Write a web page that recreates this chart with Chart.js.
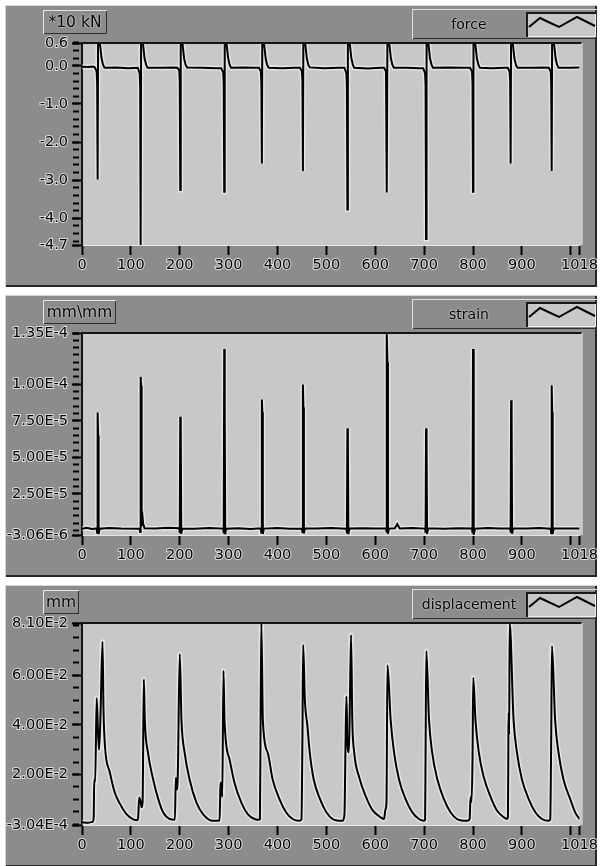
<!DOCTYPE html>
<html lang="en">
<head>
<meta charset="UTF-8">
<title>force / strain / displacement</title>
<script src="https://cdn.jsdelivr.net/npm/chart.js"></script>
<style>
  body { margin: 0; background: #fff; font-family: "DejaVu Sans", sans-serif; }
  .panel {
    position: absolute; left: 5px; width: 592px; height: 282px;
    background: #8c8c8c;
    box-shadow: inset 1px 1px 0 #d4d4d4, inset -2px -2px 0 #262626;
  }
  .panel canvas { position: absolute; left: 0; top: 0; }
  .unit {
    position: absolute; left: 38px; top: 5px; height: 24px; line-height: 24px;
    text-align: center; font-size: 15.5px; color: #000;
    box-shadow: inset 1px 1px 0 #e6e6e6, inset -1px -1px 0 #303030;
    text-shadow: 0 0 2px #fff;
  }
  .legend {
    position: absolute; left: 407px; top: 4px; width: 185px; height: 30px;
    box-shadow: inset 1px 1px 0 #e0e0e0, inset -1px -1px 0 #303030;
  }
  .legend span {
    position: absolute; left: 0; top: 0; width: 114px; line-height: 30px;
    text-align: center; font-size: 14px; color: #000; text-shadow: 0 0 2px #fff;
  }
  .legend .icon {
    position: absolute; left: 114px; top: 3px; width: 70px; height: 25px;
    background: #c8c8c8;
    box-shadow: inset 2px 2px 0 #1a1a1a, inset -1px -1px 0 #f0f0f0;
  }
</style>
</head>
<body>

<div class="panel" style="top:5px">
  <canvas id="forceChart" width="595" height="282"></canvas>
  <div class="unit" style="width:64px">*10 kN</div>
  <div class="legend"><span>force</span>
    <div class="icon"><svg width="70" height="25"><polyline points="3,15 14,6 33,15 51,5 69,14" fill="none" stroke="#000" stroke-width="2"/></svg></div>
  </div>
</div>

<div class="panel" style="top:295px">
  <canvas id="strainChart" width="595" height="282"></canvas>
  <div class="unit" style="width:73px">mm\mm</div>
  <div class="legend"><span>strain</span>
    <div class="icon"><svg width="70" height="25"><polyline points="3,15 14,6 33,15 51,5 69,14" fill="none" stroke="#000" stroke-width="2"/></svg></div>
  </div>
</div>

<div class="panel" style="top:585px">
  <canvas id="dispChart" width="595" height="282"></canvas>
  <div class="unit" style="width:36px">mm</div>
  <div class="legend"><span>displacement</span>
    <div class="icon"><svg width="70" height="25"><polyline points="3,15 14,6 33,15 51,5 69,14" fill="none" stroke="#000" stroke-width="2"/></svg></div>
  </div>
</div>

<script>
// x axis (sample index), shared by the three graphs
const xTickValues = [0, 100, 200, 300, 400, 500, 600, 700, 800, 900, 1000, 1018];
const xTickLabels = ['0', '100', '200', '300', '400', '500', '600', '700', '800', '900', '', '1018'];

// force (*10 kN)
const forceX = [
  0, 12, 22,
  26, 30, 31, 32, 33, 35, 37, 40, 43, 46, 70, 95,
  114, 118, 119, 120, 121, 123, 125, 128, 131, 134, 160, 185,
  195, 199, 200, 201, 202, 204, 206, 209, 212, 215, 245, 275,
  285, 289, 290, 291, 292, 294, 296, 299, 302, 305, 330, 352,
  362, 366, 367, 368, 369, 371, 373, 376, 379, 382, 410, 435,
  446, 450, 451, 452, 453, 455, 457, 460, 463, 466, 495, 525,
  537, 541, 542, 543, 544, 546, 548, 551, 554, 557, 585, 610,
  618, 622, 623, 624, 625, 627, 629, 632, 635, 638, 665, 690,
  698, 702, 703, 704, 705, 707, 709, 712, 715, 718, 750, 780,
  794, 798, 799, 800, 801, 803, 805, 808, 811, 814, 840, 865,
  871, 875, 876, 877, 878, 880, 882, 885, 888, 891, 920, 945,
  955, 959, 960, 961, 962, 964, 966, 969, 972, 975, 1000, 1018
];
const forceY = [
  -0.02, -0.03, -0.02,
  -0.04, -0.15, -0.45, -2.98, 1.3, 0.9, 0.55, 0.2, 0.03, -0.05, -0.04, -0.06,
  -0.05, -0.2, -0.5, -4.7, 1.3, 0.92, 0.56, 0.2, 0.04, -0.05, -0.05, -0.04,
  -0.05, -0.12, -0.4, -3.26, 1.25, 0.88, 0.54, 0.19, 0.03, -0.04, -0.05, -0.06,
  -0.06, -0.18, -0.5, -3.3, 1.3, 0.9, 0.55, 0.21, 0.03, -0.05, -0.04, -0.05,
  -0.05, -0.15, -0.45, -2.56, 1.2, 0.86, 0.52, 0.18, 0.02, -0.05, -0.06, -0.05,
  -0.05, -0.14, -0.4, -2.76, 1.25, 0.9, 0.55, 0.2, 0.03, -0.04, -0.06, -0.05,
  -0.05, -0.2, -0.55, -3.77, 1.35, 0.94, 0.57, 0.21, 0.04, -0.05, -0.07, -0.05,
  -0.05, -0.15, -0.45, -3.32, 1.3, 0.9, 0.55, 0.2, 0.03, -0.05, -0.05, -0.06,
  -0.06, -0.2, -0.5, -4.54, 1.35, 0.92, 0.56, 0.2, 0.04, -0.05, -0.04, -0.05,
  -0.05, -0.15, -0.45, -3.3, 1.3, 0.9, 0.55, 0.2, 0.03, -0.05, -0.06, -0.05,
  -0.05, -0.15, -0.4, -2.56, 1.2, 0.86, 0.52, 0.18, 0.02, -0.05, -0.05, -0.04,
  -0.05, -0.15, -0.45, -2.76, 1.25, 0.9, 0.55, 0.2, 0.03, -0.05, -0.05, -0.04
];
const forceTicks = [0.6, 0.0, -1.0, -2.0, -3.0, -4.0, -4.7];
const forceTickLabels = ['0.6', '0.0', '-1.0', '-2.0', '-3.0', '-4.0', '-4.7'];

// strain (mm\mm)
const strainX = [
  0, 10, 20,
  30, 31, 32, 33, 34, 36, 55, 80,
  118, 119, 120, 121, 122, 123, 125, 128, 150, 175,
  199, 200, 201, 202, 203, 205, 230, 260,
  289, 290, 291, 292, 293, 295, 320, 345,
  366, 367, 368, 369, 370, 372, 400, 425,
  450, 451, 452, 453, 454, 456, 480, 510,
  541, 542, 543, 544, 545, 547, 575, 600,
  622, 623, 624, 625, 626, 628, 640, 645, 650, 675,
  702, 703, 704, 705, 706, 708, 740, 770,
  798, 799, 800, 801, 802, 804, 830, 855,
  876, 877, 878, 879, 880, 882, 910, 935,
  959, 960, 961, 962, 963, 965, 990, 1018
];
const strainY = [
  1.2e-6, 1.8e-6, 1.0e-6,
  1.4e-6, -1.5e-6, 8.06e-5, 6.5e-5, -2.5e-6, 1.2e-6, 1.8e-6, 1.3e-6,
  1.2e-6, -1.0e-6, 1.05e-4, 9.9e-5, 3.0e-6, 1.27e-5, 5.0e-6, 1.6e-6, 1.4e-6, 1.9e-6,
  1.5e-6, -1.8e-6, 7.77e-5, 7.0e-5, -2.2e-6, 1.4e-6, 1.2e-6, 1.7e-6,
  1.3e-6, -2.0e-6, 1.24e-4, 8.3e-5, -2.6e-6, 1.2e-6, 1.6e-6, 1.1e-6,
  1.5e-6, -1.6e-6, 8.96e-5, 8.1e-5, -2.4e-6, 1.3e-6, 1.7e-6, 1.2e-6,
  1.4e-6, -1.2e-6, 9.98e-5, 8.4e-5, -2.0e-6, 1.5e-6, 1.3e-6, 1.8e-6,
  1.2e-6, -1.9e-6, 6.98e-5, 6.0e-5, -2.5e-6, 1.4e-6, 1.6e-6, 1.3e-6,
  1.5e-6, -1.4e-6, 1.35e-4, 1.15e-4, -2.2e-6, 1.3e-6, 1.5e-6, 4.4e-6, 1.4e-6, 1.7e-6,
  1.3e-6, -1.7e-6, 6.98e-5, 6.0e-5, -2.3e-6, 1.5e-6, 1.2e-6, 1.6e-6,
  1.4e-6, -2.0e-6, 1.24e-4, 1.08e-4, -2.6e-6, 1.2e-6, 1.7e-6, 1.3e-6,
  1.5e-6, -1.5e-6, 8.9e-5, 8.0e-5, -2.2e-6, 1.4e-6, 1.3e-6, 1.8e-6,
  1.2e-6, -1.8e-6, 9.93e-5, 8.1e-5, -2.4e-6, 1.5e-6, 1.4e-6, 1.3e-6
];
const strainTicks = [1.35e-4, 1.0e-4, 7.5e-5, 5.0e-5, 2.5e-5, -3.06e-6];
const strainTickLabels = ['1.35E-4', '1.00E-4', '7.50E-5', '5.00E-5', '2.50E-5', '-3.06E-6'];

// displacement (mm)
const dispX = [
  0, 12, 22,
  24, 25, 27, 30, 33, 35, 38, 42, 44, 47, 57, 67, 78, 91, 104, 113,
  115, 117, 120, 122, 124, 126.5, 128.5, 135, 145.5, 156, 166, 179.5, 190,
  192, 194, 196, 200, 203.5, 210, 220, 234, 247.5, 268, 281.5,
  283, 285, 287, 289.5, 291.5, 302, 312, 326, 339, 353, 361,
  364, 365.5, 367, 370, 380, 390, 404, 417.5, 431, 445,
  449, 451, 452.5, 456, 461, 466, 474, 487, 500, 513, 533,
  537, 539, 541, 543, 546, 548, 550.5, 553, 557, 567, 581, 594, 611, 618,
  621, 623, 625, 631.5, 638.5, 648.5, 662, 676, 689.5, 700,
  702, 703, 704.5, 710, 716.5, 727, 740.5, 754, 767.5, 788,
  793, 795, 797, 799, 800.5, 805, 812, 822, 836, 849, 863, 870,
  871.5, 872.5, 873, 874, 875, 883, 890, 900, 914, 927.5, 941, 955,
  958, 960, 961.5, 968, 975, 985, 999, 1009, 1018
];
const dispY = [
  0.0008, 0.0006, 0.0010,
  0.0030, 0.0180, 0.0170, 0.0508, 0.0360, 0.0300, 0.0450, 0.0735, 0.0460, 0.0315, 0.0208, 0.0128, 0.0081, 0.0041, 0.0021, 0.0016,
  0.0030, 0.0108, 0.0090, 0.0068, 0.0090, 0.0584, 0.0420, 0.0288, 0.0181, 0.0101, 0.0048, 0.0021, 0.0018,
  0.0187, 0.0140, 0.0200, 0.0685, 0.0420, 0.0288, 0.0181, 0.0088, 0.0041, 0.0014, 0.0015,
  0.0140, 0.0168, 0.0110, 0.0618, 0.0420, 0.0260, 0.0167, 0.0087, 0.0041, 0.0021, 0.0018,
  0.0020, 0.0450, 0.0810, 0.0420, 0.0288, 0.0181, 0.0101, 0.0048, 0.0021, 0.0014,
  0.0020, 0.0350, 0.0722, 0.0500, 0.0400, 0.0288, 0.0181, 0.0101, 0.0048, 0.0021, 0.0014,
  0.0040, 0.0300, 0.0515, 0.0330, 0.0290, 0.0480, 0.0762, 0.0420, 0.0288, 0.0190, 0.0110, 0.0058, 0.0028, 0.0021,
  0.0060, 0.0090, 0.0640, 0.0420, 0.0288, 0.0181, 0.0101, 0.0048, 0.0021, 0.0014,
  0.0020, 0.0300, 0.0697, 0.0420, 0.0288, 0.0181, 0.0101, 0.0048, 0.0021, 0.0014,
  0.0020, 0.0110, 0.0090, 0.0260, 0.0590, 0.0420, 0.0288, 0.0190, 0.0110, 0.0055, 0.0028, 0.0021,
  0.0030, 0.0380, 0.0450, 0.0360, 0.0810, 0.0420, 0.0288, 0.0181, 0.0101, 0.0048, 0.0021, 0.0014,
  0.0020, 0.0350, 0.0717, 0.0420, 0.0288, 0.0181, 0.0101, 0.0048, 0.0021
];
const dispTicks = [0.081, 0.06, 0.04, 0.02, -3.04e-4];
const dispTickLabels = ['8.10E-2', '6.00E-2', '4.00E-2', '2.00E-2', '-3.04E-4'];

const tickFont = { family: 'DejaVu Sans', size: 14.5 };

// light plot background + sunken frame around the plot area
const plotFrame = {
  id: 'plotFrame',
  beforeDraw(chart) {
    const { ctx, chartArea: a } = chart;
    ctx.save();
    ctx.fillStyle = '#c8c8c8';
    ctx.fillRect(a.left, a.top, a.right - a.left + 2, a.bottom - a.top);
    ctx.restore();
  },
  afterDraw(chart) {
    const { ctx, chartArea: a } = chart;
    ctx.save();
    ctx.fillStyle = '#141414';
    ctx.fillRect(a.left - 1, a.top - 1, a.right - a.left + 3, 2);
    ctx.fillStyle = '#e6e6e6';
    ctx.fillRect(a.right + 2, a.top, 1, a.bottom - a.top);
    ctx.restore();
  }
};

function minorTicks(lo, hi, step) {
  const out = [lo, hi];
  for (let k = Math.ceil(lo / step); k * step <= hi + step * 1e-6; k++) out.push(k * step);
  return out;
}

function makeGraph(id, xs, ys, yMin, yMax, majors, majorLabels, minorStep, smooth) {
  const pts = xs.map((x, i) => ({ x: x, y: ys[i] }));
  const minors = minorTicks(yMin, yMax, minorStep);
  const line = { pointRadius: 0, tension: smooth ? 0.4 : 0, cubicInterpolationMode: smooth ? 'monotone' : 'default' };
  return new Chart(document.getElementById(id), {
    type: 'line',
    data: {
      datasets: [
        Object.assign({ data: pts, borderColor: '#000', borderWidth: 2 }, line),
        Object.assign({ data: pts, borderColor: 'rgba(255,255,255,0.5)', borderWidth: 5 }, line)
      ]
    },
    options: {
      responsive: false,
      animation: false,
      events: [],
      layout: { padding: { top: 38, right: 18, left: 0, bottom: 0 } },
      plugins: { legend: { display: false }, tooltip: { enabled: false } },
      scales: {
        x: {
          type: 'linear', min: 0, max: 1018,
          afterBuildTicks: s => { s.ticks = xTickValues.map(v => ({ value: v })); },
          afterFit: s => { s.height = 42; },
          ticks: {
            autoSkip: false, maxRotation: 0, padding: 2, color: '#000', font: tickFont,
            textStrokeColor: 'rgba(255,255,255,0.7)', textStrokeWidth: 2,
            callback: (v, i) => xTickLabels[i]
          },
          grid: { drawOnChartArea: false, tickLength: 10, tickWidth: 2, tickColor: '#000' },
          border: { display: true, color: '#e6e6e6', width: 1 }
        },
        y: {
          type: 'linear', position: 'left', weight: 1, min: yMin, max: yMax,
          afterBuildTicks: s => { s.ticks = majors.map(v => ({ value: v })); },
          afterFit: s => { s.width = 77; },
          ticks: {
            autoSkip: false, padding: 4, color: '#000', font: tickFont,
            textStrokeColor: 'rgba(255,255,255,0.7)', textStrokeWidth: 2,
            callback: (v, i) => majorLabels[i]
          },
          grid: { drawOnChartArea: false, tickLength: 10, tickWidth: 2, tickColor: '#000' },
          border: { display: true, color: '#151515', width: 2 }
        },
        yMinor: {
          type: 'linear', position: 'left', weight: 0, min: yMin, max: yMax,
          afterBuildTicks: s => { s.ticks = minors.map(v => ({ value: v })); },
          afterFit: s => { s.width = 0; },
          ticks: { display: false },
          grid: { drawOnChartArea: false, tickLength: 9, tickWidth: 2, tickColor: '#000', tickBorderDash: [6, 20] },
          border: { display: false }
        }
      }
    },
    plugins: [plotFrame]
  });
}

makeGraph('forceChart', forceX, forceY, -4.7, 0.6, forceTicks, forceTickLabels, 0.2, false);
makeGraph('strainChart', strainX, strainY, -3.06e-6, 1.35e-4, strainTicks, strainTickLabels, 5e-6, false);
makeGraph('dispChart', dispX, dispY, -3.04e-4, 0.081, dispTicks, dispTickLabels, 0.005, true);
</script>

</body>
</html>
